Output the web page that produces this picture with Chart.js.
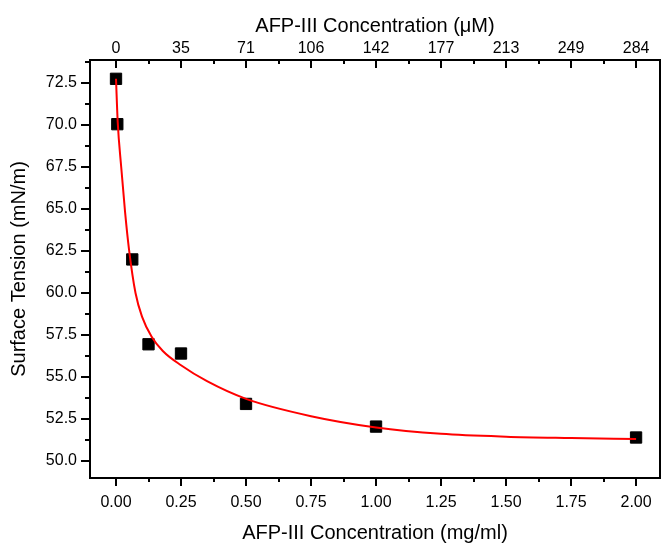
<!DOCTYPE html>
<html>
<head>
<meta charset="utf-8">
<script src="https://cdn.jsdelivr.net/npm/chart.js@4/dist/chart.umd.min.js"></script>
<style>
  html, body { margin: 0; padding: 0; background: #fff; }
  canvas { display: block; }
</style>
</head>
<body>
<canvas id="c" width="661" height="546"></canvas>
<script>
// ---- data ----
const concMgMl   = [0, 0.005, 0.0625, 0.125, 0.25, 0.5, 1.0, 2.0];
const tensionMNm = [72.75, 70.05, 62.0, 56.95, 56.4, 53.4, 52.05, 51.4];

const fitX = [0, 0.0065, 0.02, 0.035, 0.05, 0.075, 0.1, 0.137, 0.18, 0.25, 0.35, 0.5, 0.75, 1.0, 1.25, 1.5, 1.75, 2.0];
const fitY = [72.75, 70.2, 67.5, 64.8, 62.6, 60.0, 58.6, 57.4, 56.55, 55.7, 54.75, 53.7, 52.67, 52.0, 51.62, 51.45, 51.37, 51.31];

const xTicks = [0, 0.25, 0.5, 0.75, 1.0, 1.25, 1.5, 1.75, 2.0];
const xMinorTicks = [0.125, 0.375, 0.625, 0.875, 1.125, 1.375, 1.625, 1.875];
const topTickLabels = ['0', '35', '71', '106', '142', '177', '213', '249', '284'];
const yTicks = [50.0, 52.5, 55.0, 57.5, 60.0, 62.5, 65.0, 67.5, 70.0, 72.5];
const yMinorTicks = [51.25, 53.75, 56.25, 58.75, 61.25, 63.75, 66.25, 68.75, 71.25, 73.75];

const X_MIN = -0.1, X_MAX = 2.092;
const Y_MIN = 48.99, Y_MAX = 73.87;

const FONT = "'Liberation Sans', Arial, sans-serif";

const frameTicks = {
  id: 'frameTicks',
  afterDraw(chart) {
    const { ctx, chartArea: a, scales } = chart;
    const x = scales.x, y = scales.y;
    ctx.save();
    ctx.strokeStyle = '#000';
    ctx.lineWidth = 2;
    ctx.strokeRect(a.left, a.top, a.right - a.left, a.bottom - a.top);
    ctx.beginPath();
    xTicks.forEach(v => {
      const px = Math.round(x.getPixelForValue(v));
      ctx.moveTo(px, a.bottom); ctx.lineTo(px, a.bottom + 8);
      ctx.moveTo(px, a.top); ctx.lineTo(px, a.top + 8);
    });
    xMinorTicks.forEach(v => {
      const px = Math.round(x.getPixelForValue(v));
      ctx.moveTo(px, a.bottom); ctx.lineTo(px, a.bottom + 4);
      ctx.moveTo(px, a.top); ctx.lineTo(px, a.top + 4);
    });
    yTicks.forEach(v => {
      const py = Math.round(y.getPixelForValue(v));
      ctx.moveTo(a.left, py); ctx.lineTo(a.left - 9, py);
    });
    yMinorTicks.forEach(v => {
      const py = Math.round(y.getPixelForValue(v));
      ctx.moveTo(a.left, py); ctx.lineTo(a.left - 5, py);
    });
    ctx.stroke();
    ctx.restore();
  }
};

new Chart(document.getElementById('c'), {
  type: 'scatter',
  data: {
    datasets: [
      {
        type: 'line',
        data: fitX.map((v, i) => ({ x: v, y: fitY[i] })),
        borderColor: '#ff0000',
        borderWidth: 2,
        pointRadius: 0,
        fill: false,
        cubicInterpolationMode: 'monotone'
      },
      {
        data: concMgMl.map((v, i) => ({ x: v, y: tensionMNm[i] })),
        pointStyle: 'rect',
        pointRadius: 8,
        pointBackgroundColor: '#000',
        pointBorderColor: '#000',
        pointBorderWidth: 1
      }
    ]
  },
  options: {
    responsive: false,
    animation: false,
    layout: { autoPadding: false, padding: { right: 1, top: 0, left: 0, bottom: 0 } },
    plugins: { legend: { display: false }, tooltip: { enabled: false } },
    scales: {
      x: {
        type: 'linear', position: 'bottom', min: X_MIN, max: X_MAX,
        afterBuildTicks: s => { s.ticks = xTicks.map(v => ({ value: v })); },
        afterFit: s => { s.height = 68; },
        grid: { display: false, drawTicks: true, tickLength: 15 },
        border: { display: false },
        ticks: {
          color: '#000', font: { family: FONT, size: 16 }, padding: 0,
          maxRotation: 0, autoSkip: false,
          callback: v => Number(v).toFixed(2)
        },
        title: {
          display: true, text: 'AFP-III Concentration (mg/ml)', color: '#000',
          font: { family: FONT, size: 20 }, padding: { top: 0, bottom: 1 }
        }
      },
      x2: {
        type: 'linear', position: 'top', min: X_MIN, max: X_MAX,
        afterBuildTicks: s => { s.ticks = xTicks.map(v => ({ value: v })); },
        afterFit: s => { s.height = 60; },
        grid: { display: false, drawTicks: true, tickLength: 2 },
        border: { display: false },
        ticks: {
          color: '#000', font: { family: FONT, size: 16 }, padding: 0,
          maxRotation: 0, autoSkip: false,
          callback: v => topTickLabels[xTicks.indexOf(Number(v))]
        },
        title: {
          display: true, text: 'AFP-III Concentration (\u03BCM)', color: '#000',
          font: { family: FONT, size: 20 }, padding: { top: 14, bottom: 0 }
        }
      },
      y: {
        type: 'linear', position: 'left', min: Y_MIN, max: Y_MAX,
        afterBuildTicks: s => { s.ticks = yTicks.map(v => ({ value: v })); },
        afterFit: s => { s.width = 90; },
        grid: { display: false, drawTicks: false },
        border: { display: false },
        ticks: {
          color: '#000', font: { family: FONT, size: 16 }, padding: 13,
          autoSkip: false,
          callback: v => Number(v).toFixed(1)
        },
        title: {
          display: true, text: 'Surface Tension (mN/m)', color: '#000',
          font: { family: FONT, size: 20 }, padding: { top: 7, bottom: 0 }
        }
      }
    }
  },
  plugins: [frameTicks]
});
</script>
</body>
</html>
